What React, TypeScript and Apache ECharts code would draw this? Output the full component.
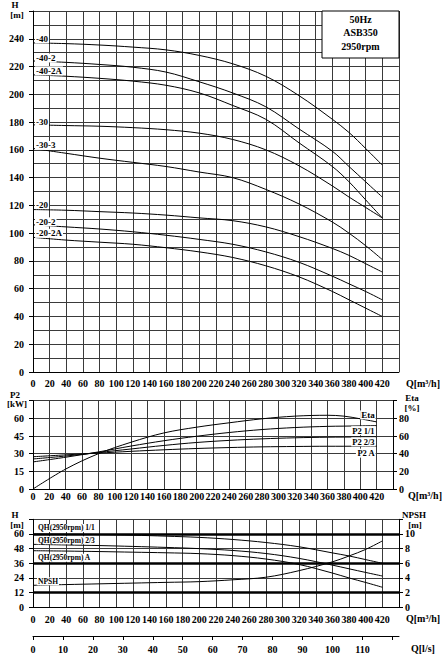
import React, { useEffect, useRef } from "react";
import * as echarts from "echarts";

// Flow points (m³/h) used for every curve
const Q = [0, 40, 80, 120, 160, 200, 240, 280, 320, 360, 380, 400, 420];

// Main panel: head curves H [m]
const H_40 = [237, 236.5, 235.5, 234, 232, 228, 222, 213, 199, 182, 172.5, 161, 149];
const H_40_2 = [224, 223, 221.5, 219.5, 216, 209, 201, 191, 175, 159, 148, 137, 126];
const H_40_2A = [214, 213, 211.5, 209.5, 206.5, 201, 192, 182, 165, 148, 137, 124, 111];
const H_30 = [178, 177.5, 177, 176, 174.5, 172, 167.5, 160, 148.5, 134, 126, 118.5, 111];
const H_30_3 = [161, 157.5, 154, 151, 148, 144, 140, 131.5, 121, 108, 100, 91, 81];
const H_20 = [117, 116.5, 115.5, 114.5, 113, 111, 109, 104.5, 97.5, 89, 84, 78, 72];
const H_20_2 = [106, 104.5, 103, 101, 98.5, 95.5, 92, 86.5, 79, 69, 63.5, 58, 52];
const H_20_2A = [97, 95, 93.5, 92, 89.5, 86.5, 82.5, 76.5, 68.5, 58, 52, 46, 40];
const mainNames = ["-40", "-40-2", "-40-2A", "-30", "-30-3", "-20", "-20-2", "-20-2A"];
const mainCurves = [H_40, H_40_2, H_40_2A, H_30, H_30_3, H_20, H_20_2, H_20_2A];

// Middle panel: power P2 [kW] and efficiency Eta [%]
const ETA = [0, 22.6, 40, 53, 63.5, 70, 75, 79.5, 82.5, 83.5, 82.5, 79.5, 76];
const P2_11 = [23, 27, 31.5, 36.5, 41, 44.8, 48, 50.5, 52.2, 53.2, 53.4, 53.6, 53.8];
const P2_23 = [25.5, 28, 31, 34, 37, 39.5, 41.3, 42.6, 43.5, 44, 44.1, 44.2, 44.3];
const P2_A = [27.4, 29, 30.5, 32, 33.3, 34.4, 35.2, 35.8, 36.1, 36.3, 36.3, 36.4, 36.4];
const powerNames = ["P2 1/1", "P2 2/3", "P2 A"];
const powerCurves = [P2_11, P2_23, P2_A];

// Bottom panel: stage head H [m] and NPSH [m]
const QH_11 = [60, 59.8, 59.5, 59, 58.2, 57.2, 55.5, 53, 49.5, 44.5, 42, 39, 36];
const QH_23 = [51.5, 51, 50.5, 49.8, 49, 48, 46.5, 44, 40, 34.5, 31.5, 28.5, 25.6];
const QH_A = [46.3, 46, 45.6, 45.1, 44.6, 43.9, 42.3, 39.5, 35, 28, 24, 20.3, 16.4];
const NPSH = [3.0, 3.1, 3.2, 3.3, 3.4, 3.5, 3.75, 4.1, 5.0, 6.2, 7.0, 7.9, 9.05];
const qhNames = ["QH(2950rpm) 1/1", "QH(2950rpm) 2/3", "QH(2950rpm) A"];
const qhCurves = [QH_11, QH_23, QH_A];
const thickHLines = [12, 36, 60];

// Legend box text
const infoLines = ["50Hz", "ASB350", "2950rpm"];

const FF = "'Liberation Serif', 'DejaVu Serif', serif";
const BLACK = "#000";
const GRIDC = "#3a3a3a";

const lbl = (size: number, extra: any = {}) => ({
  color: BLACK,
  fontFamily: FF,
  fontWeight: "bold",
  fontSize: size,
  ...extra,
});

const font = (size: number) => `bold ${size}px ${FF}`;

function lineSeries(arr: number[], xi: number, yi: number, firstLabel?: any, lastLabel?: any) {
  return {
    type: "line",
    xAxisIndex: xi,
    yAxisIndex: yi,
    symbol: "circle",
    symbolSize: 0,
    showSymbol: true,
    silent: true,
    smooth: 0.35,
    lineStyle: { color: BLACK, width: 1 },
    itemStyle: { color: BLACK },
    emphasis: { disabled: true },
    z: 5,
    data: Q.map((q, i) => {
      const item: any = { value: [q, arr[i]] };
      if (i === 0 && firstLabel) item.label = firstLabel;
      if (i === Q.length - 1 && lastLabel) item.label = lastLabel;
      return item;
    }),
  };
}

const mainOffsets = [-4, -3, -4, -3, -3, -5, -3, -4];
const powerOffsets = [5, 5, 7];
const qhOffsets = [-6, -4, 7];
const bg = { backgroundColor: "#fff", padding: [0, 1, 0, 1] };

function buildOption() {
  const series: any[] = [];
  mainCurves.forEach((arr, k) => {
    series.push(
      lineSeries(arr, 0, 0, {
        show: true,
        formatter: mainNames[k],
        position: "right",
        distance: 2,
        offset: [0, mainOffsets[k]],
        ...lbl(9),
        ...bg,
      })
    );
  });
  series.push(
    lineSeries(ETA, 1, 2, undefined, {
      show: true,
      formatter: "Eta",
      position: "left",
      distance: 1,
      offset: [0, -7],
      ...lbl(9),
      ...bg,
    })
  );
  powerCurves.forEach((arr, k) => {
    series.push(
      lineSeries(arr, 1, 1, undefined, {
        show: true,
        formatter: powerNames[k],
        position: "left",
        distance: 1,
        offset: [0, powerOffsets[k]],
        ...lbl(8.5),
        ...bg,
      })
    );
  });
  qhCurves.forEach((arr, k) => {
    const s: any = lineSeries(arr, 2, 3, {
      show: true,
      formatter: qhNames[k],
      position: "right",
      distance: 4,
      offset: [0, qhOffsets[k]],
      ...lbl(7.5),
      ...bg,
    });
    if (k === 0) {
      s.markLine = {
        silent: true,
        symbol: "none",
        label: { show: false },
        lineStyle: { color: BLACK, width: 2.5, type: "solid" },
        data: thickHLines.map((v) => ({ yAxis: v })),
      };
    }
    series.push(s);
  });
  series.push(
    lineSeries(NPSH, 2, 4, {
      show: true,
      formatter: "NPSH",
      position: "right",
      distance: 4,
      offset: [0, -4],
      ...lbl(7.5),
      ...bg,
    })
  );

  const splitX = { show: true, lineStyle: { color: GRIDC, width: 1 } };
  const splitY = { show: true, lineStyle: { color: GRIDC, width: 1 } };
  const axisLine = { show: true, onZero: false, lineStyle: { color: BLACK, width: 1 } };

  const qAxis = (gi: number, margin: number, namePad: number) => ({
    type: "value",
    gridIndex: gi,
    min: 0,
    max: 440,
    interval: 20,
    axisLine,
    axisTick: { show: false },
    splitLine: splitX,
    axisLabel: {
      ...lbl(10),
      margin,
      formatter: (v: number) => (v > 420 ? "" : String(v)),
    },
    name: "Q[m³/h]",
    nameLocation: "end",
    nameGap: 7,
    nameTextStyle: { ...lbl(10), align: "left", verticalAlign: "top", padding: [namePad, 0, 0, 0] },
  });

  const yAx = (gi: number, max: number, interval: number, pos: string, split: boolean, minor: boolean) => ({
    type: "value",
    gridIndex: gi,
    position: pos,
    min: 0,
    max,
    interval,
    axisLine,
    axisTick: { show: true, length: 4, lineStyle: { color: BLACK } },
    splitLine: split ? splitY : { show: false },
    minorTick: { show: false, splitNumber: 2 },
    minorSplitLine: { show: minor, lineStyle: { color: GRIDC, width: 1 } },
    axisLabel: {
      ...lbl(10),
      margin: pos === "left" ? 9 : 6,
      formatter: (v: number) => (v >= max ? "" : String(v)),
    },
  });

  const t = (text: string, x: number, y: number, size = 9) => ({
    type: "text",
    x,
    y,
    style: { text, fill: BLACK, font: font(size), align: "center", verticalAlign: "middle" },
  });

  const graphics: any[] = [
    t("H", 15, 5),
    t("[m]", 17, 15),
    t("P2", 15, 395),
    t("[kW]", 17, 404),
    t("Eta", 412, 398),
    t("[%]", 412, 407.5),
    t("H", 15, 515),
    t("[m]", 17, 524.5),
    t("NPSH", 414, 515),
    t("[m]", 415, 524.5),
    {
      type: "rect",
      z: 100,
      shape: { x: 322, y: 11, width: 77, height: 47 },
      style: { fill: "#fff", stroke: BLACK, lineWidth: 1 },
    },
  ];
  infoLines.forEach((s, i) => {
    const g: any = t(s, 360.5, 19 + i * 13.5, 10);
    g.z = 101;
    graphics.push(g);
  });

  return {
    animation: false,
    backgroundColor: "#fff",
    textStyle: { fontFamily: FF },
    grid: [
      { left: 33, top: 11, width: 366, height: 361 },
      { left: 33, top: 400.7, width: 366, height: 88.3 },
      { left: 33, top: 519.3, width: 366, height: 88 },
      { left: 33, top: 600, width: 366, height: 36 },
    ],
    xAxis: [
      qAxis(0, 6, 6),
      qAxis(1, 2.5, 1.5),
      qAxis(2, 7, 6.5),
      {
        type: "value",
        gridIndex: 3,
        min: 0,
        max: 440 / 3.6,
        interval: 10,
        axisLine,
        axisTick: { show: true, length: 4, lineStyle: { color: BLACK } },
        splitLine: { show: false },
        axisLabel: {
          ...lbl(10),
          margin: 8,
          showMaxLabel: false,
          formatter: (v: number) => (v > 115 ? "" : String(v)),
        },
        name: "Q[l/s]",
        nameLocation: "end",
        nameGap: 12,
        nameTextStyle: { ...lbl(10), align: "left", verticalAlign: "top", padding: [7, 0, 0, 0] },
      },
    ],
    yAxis: [
      yAx(0, 260, 20, "left", true, true),
      yAx(1, 75, 15, "left", true, false),
      yAx(1, 100, 20, "right", false, false),
      yAx(2, 72, 12, "left", true, false),
      yAx(2, 12, 2, "right", false, false),
      { type: "value", gridIndex: 3, min: 0, max: 1, show: false },
    ],
    series,
    graphic: graphics,
  };
}

export default function App() {
  const ref = useRef<HTMLDivElement>(null);
  useEffect(() => {
    if (!ref.current) return;
    const chart = echarts.init(ref.current, undefined, { renderer: "svg" });
    chart.setOption(buildOption() as any);
    return () => chart.dispose();
  }, []);
  return (
    <div
      ref={ref}
      style={{ position: "fixed", left: 0, top: 0, width: 443, height: 661, background: "#fff" }}
    />
  );
}
